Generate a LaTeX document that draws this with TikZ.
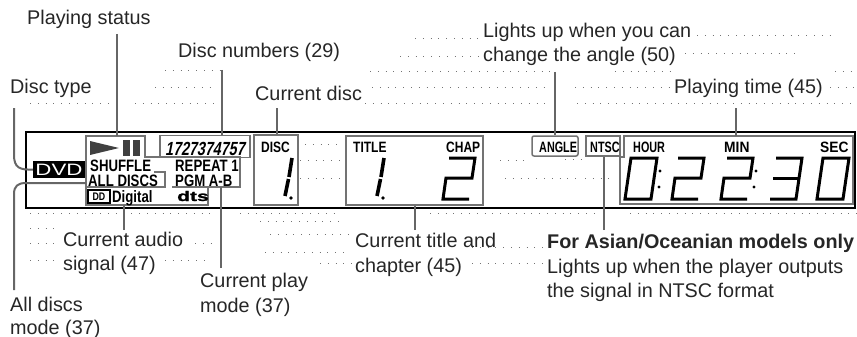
\documentclass[tikz,border=0pt]{standalone}
\usepackage{fontspec}
\setmainfont{Liberation Sans}
\newfontfamily\lcdfont[FakeStretch=0.8]{Liberation Sans}
\newfontfamily\lcdtightfont[FakeStretch=0.72]{Liberation Sans}
\newfontfamily\lcdwidefont[FakeStretch=0.92]{Liberation Sans}
\newfontfamily\lcdnumfont[FakeStretch=0.75,FakeSlant=0.2]{Liberation Sans}
\newfontfamily\dvdfont[FakeStretch=1.35]{Liberation Sans}
\newfontfamily\dtsfont[FakeStretch=1.5,FakeBold=1.5]{Liberation Sans}
\tikzset{
  callout/.style={anchor=base west,inner sep=0pt,align=left,font=\fontsize{19.8}{24.3}\selectfont,text=black!85},
  lcdtext/.style={anchor=base west,inner sep=0pt,font=\lcdfont\bfseries\fontsize{15}{15}\selectfont},
  lcdtight/.style={lcdtext,font=\lcdtightfont\bfseries\fontsize{15}{15}\selectfont},
  lcdwide/.style={lcdtext,font=\lcdwidefont\bfseries\fontsize{15}{15}\selectfont},
  lcdbig/.style={lcdtext,font=\lcdfont\bfseries\fontsize{16.5}{16.5}\selectfont},
  lcdbox/.style={draw=black!55,line width=1.5pt,inner sep=0pt},
  leader/.style={draw=black!60,line width=2pt},
  segment/.style={line width=3pt,line join=miter},
  scanrow/.style={draw=black!55,line width=0.7pt,dash pattern=on 0.8pt off 7pt},
}
\newcommand\digitzero[1]{\draw[segment,shift={(#1,158)}](6,0)--(32,0)--(26,41)--(0,41)--cycle;}
\newcommand\digittwo[1]{\draw[segment,shift={(#1,158)}](6,0)--(32,0)--(29,20)--(3,20)--(0,41)--(26,41);}
\newcommand\digitthree[1]{\draw[segment,shift={(#1,158)}](6,0)--(32,0)--(26,41)--(0,41);\draw[segment,shift={(#1,158)}](3,20)--(29,20);}
\newcommand\digitone[1]{\draw[segment,line width=3.6pt,shift={(#1,158)}](7,0)--(4,19);\draw[segment,line width=3.6pt,shift={(#1,158)}](3.5,21)--(0,38);\fill[shift={(#1,158)}](6,40) circle(1.9);}

\begin{document}
\begin{tikzpicture}[x=1pt,y=-1pt]
\useasboundingbox (0,0) rectangle (857,337);
% faint rows of the scan
\foreach \y/\xa/\xb in {35/697/830,38/415/480,53/685/800,56/400/480,70/165/220,71/370/550,71/615/675,71/835/857,
  87/155/215,87/372/550,87/575/674,87/830/857,103/30/110,103/135/220,103/365/550,103/577/857,
  144/305/340,160/300/340,178/300/345,160/500/530,178/505/580,159/565/585,178/585/615,
  213/30/210,213/240/340,213/430/600,213/630/857,228/30/60,221/260/345,234/270/350,243/30/60,252/265/350,
  243/195/215,260/30/60,260/165/210,263/320/352,247/472/545,263/472/545}
  \draw[scanrow] (\xa,\y)--(\xb,\y);
% display frame
\node[draw=black,line width=1.5pt,minimum width=829pt,minimum height=76pt,inner sep=0pt] (frame) at (440.5,170) {};
\node[fill=black,minimum width=52pt,minimum height=17pt,inner sep=0pt] (dvdlogo) at (59,169.5) {};
\node[anchor=base,inner sep=0pt,text=white,font=\dvdfont\fontsize{16.5}{16.5}\selectfont] (dvdtext) at (59,175.5) {DVD};
% grouped boxes
\draw[lcdbox] (86,136)--(145,136)--(145,157)--(240,157)--(240,187)--(208,187)--(208,205)--(86,205)--cycle;
\draw[lcdbox] (86,187)--(165,187)--(165,172)--(154,172);
\draw[lcdbox] (172,187)--(208,187);
\node[lcdbox,minimum width=90pt,minimum height=22pt] (numbox) at (205,146.5) {};
\node[lcdbox,minimum width=44pt,minimum height=70pt] (discbox) at (276,170) {};
\node[lcdbox,minimum width=137pt,minimum height=69pt] (titlebox) at (414.5,170.5) {};
\node[lcdbox,minimum width=46pt,minimum height=20pt,rounded corners=2pt] (anglebox) at (555,146) {};
\node[lcdbox,minimum width=34pt,minimum height=20pt] (ntscbox) at (603,146) {};
\draw[lcdbox] (624,136)--(853,136)--(853,204)--(620,204)--(620,157)--(624,157)--cycle;
\coordinate (statusbox) at (117,136);
\coordinate (timebox) at (736,136);
\coordinate (audiobox) at (124,205);
\coordinate (modebox) at (221,187);
\coordinate (allbox) at (86,183);
% display contents
\fill[black!75] (90,141)--(90,155)--(119,148)--cycle;
\fill[black!75] (123,140) rectangle (130,156);
\fill[black!75] (133,140) rectangle (140,156);
\node[anchor=base west,inner sep=0pt,font=\lcdnumfont\bfseries\fontsize{19}{19}\selectfont] (discnums) at (165,155) {1727374757};
\node[lcdbig] (shuffle) at (90,171) {SHUFFLE};
\node[lcdbig] (repeat) at (175,171) {REPEAT 1};
\node[lcdbig] (alldiscs) at (88,186) {ALL DISCS};
\node[lcdbig] (pgm) at (175,186) {PGM A-B};
\node[draw=black,fill=white,line width=2pt,minimum width=22pt,minimum height=13pt,inner sep=0pt,font=\lcdfont\bfseries\fontsize{11}{11}\selectfont] (dolby) at (99,196.5) {DD};
\node[lcdbig] (digital) at (112,202) {Digital};
\node[anchor=base west,inner sep=0pt,font=\dtsfont\bfseries\fontsize{14}{14}\selectfont] (dts) at (177,201) {dts};
\node[lcdtext] (disclbl) at (261,152) {DISC};
\node[lcdtext] (titlelbl) at (353,152) {TITLE};
\node[lcdtext] (chaplbl) at (446,152) {CHAP};
\node[lcdtight] (anglelbl) at (539,152) {ANGLE};
\node[lcdtight] (ntsclbl) at (590,152) {NTSC};
\node[lcdtight] (hourlbl) at (633,152) {HOUR};
\node[lcdwide] (minlbl) at (724,152) {MIN};
\node[lcdwide] (seclbl) at (820,152) {SEC};
\digitone{285}
\digitone{377}
\digittwo{443}
\digitzero{625}
\digittwo{672}
\digittwo{721}
\digitthree{770}
\digitzero{817}
\fill (660,171) circle(1.6);\fill (659,187) circle(1.6);
\fill (756,171) circle(1.6);\fill (754,187) circle(1.6);
% callouts
\node[callout] (statuslbl) at (27,25) {Playing status};
\node[callout] (numslbl) at (178,58) {Disc numbers (29)};
\node[callout] (typelbl) at (10,94) {Disc type};
\node[callout] (currentlbl) at (255,100) {Current disc};
\node[callout] (lightslbl) at (483,38) {Lights up when you can};
\node[callout] (changelbl) at (483,62) {change the angle (50)};
\node[callout] (timelbl) at (674,93) {Playing time (45)};
\node[callout] (audiolbl) at (63,246) {Current audio};
\node[callout] (audiolblb) at (63,270) {signal (47)};
\node[callout] (modelbl) at (200,287) {Current play};
\node[callout] (modelblb) at (200,312) {mode (37)};
\node[callout] (alllbl) at (10,311) {All discs};
\node[callout] (alllblb) at (10,334) {mode (37)};
\node[callout] (titlecall) at (355,247) {Current title and};
\node[callout] (titlecallb) at (355,272) {chapter (45)};
\node[callout,font=\bfseries\fontsize{19.8}{24.3}\selectfont] (asianlbl) at (547,248) {For Asian/Oceanian models only};
\node[callout] (ntsclight) at (547,273) {Lights up when the player outputs};
\node[callout] (ntsclightb) at (547,297) {the signal in NTSC format};
% leaders
\coordinate (statustop) at (117,34);
\coordinate (numstop) at (222,70);
\coordinate (currenttop) at (277,108);
\coordinate (angletop) at (555,72);
\coordinate (timetop) at (736,108);
\coordinate (typetop) at (14,108);
\coordinate (audioend) at (124,230);
\coordinate (modeend) at (221,268);
\coordinate (allend) at (14,290);
\coordinate (titleend) at (415,230);
\coordinate (ntscend) at (604,230);
\draw[leader] (statustop)--(statusbox);
\draw[leader] (numstop)--(numstop|-numbox.north);
\draw[leader] (currenttop)--(currenttop|-discbox.north);
\draw[leader] (angletop)--(anglebox.north);
\draw[leader] (timetop)--(timebox);
\draw[leader] (typetop)--(14,155) .. controls (14,168) and (20,170) .. (dvdlogo.west);
\draw[leader] (allend)--(14,194) .. controls (14,186) and (18,183) .. (26,183)--(allbox);
\draw[leader] (audioend)--(audiobox);
\draw[leader] (modeend)--(modebox);
\draw[leader] (titleend)--(titleend|-titlebox.south);
\draw[leader] (ntscend)--(ntscend|-ntscbox.south);
\end{tikzpicture}
\end{document}
